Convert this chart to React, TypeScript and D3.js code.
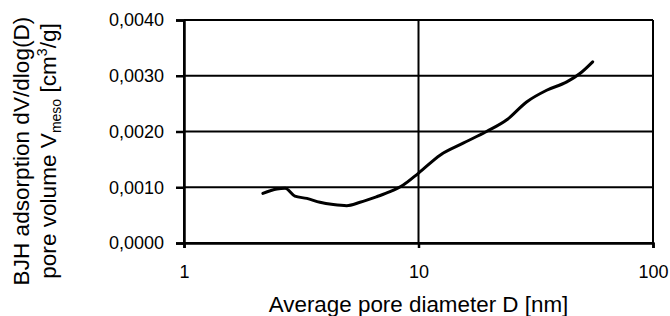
import React, { useEffect, useRef } from 'react';
import * as d3 from 'd3';

// pore diameter D [nm] and BJH dV/dlog(D) [cm3/g]
const diameters = [2.17, 2.49, 2.7, 2.97, 3.34, 3.8, 4.33, 4.94, 5.63, 6.63, 7.56, 8.61, 9.98, 12.4, 15.5, 19.5, 23.8, 28.9, 35.2, 42.9, 48.8, 55.3];
const volumes = [0.00089, 0.00097, 0.00098, 0.00084, 0.0008, 0.00073, 0.00069, 0.00067, 0.00073, 0.00083, 0.00092, 0.00104, 0.00125, 0.00158, 0.00179, 0.002, 0.00221, 0.00253, 0.00274, 0.00289, 0.00304, 0.00325];

const xTicks = [1, 10, 100];
const yTicks = [0, 0.001, 0.002, 0.003, 0.004];

const width = 670;
const height = 316;

const App: React.FC = () => {
  const svgRef = useRef<SVGSVGElement>(null);

  useEffect(() => {
    if (!svgRef.current) return;
    const svg = d3.select(svgRef.current);
    svg.selectAll('*').remove();

    const left = 184, right = 653, top = 20, bottom = 243;
    const font = 'Liberation Sans, Arial, sans-serif';

    const x = d3.scaleLog().domain([1, 100]).range([left, right]);
    const y = d3.scaleLinear().domain([0, 0.004]).range([bottom, top]);

    const comma = d3.formatLocale({ decimal: ',', thousands: '.', grouping: [3], currency: ['', ''] });
    const yFmt = comma.format('.4f');

    // grid
    svg.append('g')
      .selectAll('line')
      .data(yTicks)
      .join('line')
      .attr('x1', left).attr('x2', right)
      .attr('y1', d => y(d)).attr('y2', d => y(d))
      .attr('stroke', '#000').attr('stroke-width', 2);

    svg.append('g')
      .selectAll('line')
      .data(xTicks)
      .join('line')
      .attr('x1', d => x(d)).attr('x2', d => x(d))
      .attr('y1', top).attr('y2', bottom)
      .attr('stroke', '#000').attr('stroke-width', 2);

    const yAxis = svg.append('g')
      .attr('transform', `translate(${left},0)`)
      .call(d3.axisLeft(y).tickValues(yTicks).tickFormat(d => yFmt(d as number)).tickSize(8).tickPadding(12));
    yAxis.select('.domain').attr('stroke-width', 2.5);
    yAxis.selectAll('.tick line').attr('stroke-width', 2.5);
    yAxis.selectAll('text').attr('font-family', font).attr('font-size', 18).attr('fill', '#000');

    const xAxis = svg.append('g')
      .attr('transform', `translate(0,${bottom})`)
      .call(d3.axisBottom(x).tickValues(xTicks).tickFormat(d => d3.format('d')(d as number)).tickSize(5).tickPadding(17));
    xAxis.select('.domain').attr('stroke-width', 2.5);
    xAxis.selectAll('.tick line').attr('stroke-width', 2.5);
    xAxis.selectAll('text').attr('font-family', font).attr('font-size', 18).attr('fill', '#000');

    // curve
    const pts: [number, number][] = diameters.map((d, i) => [d, volumes[i]]);
    const line = d3.line<[number, number]>()
      .x(d => x(d[0]))
      .y(d => y(d[1]))
      .curve(d3.curveMonotoneX);

    svg.append('path')
      .datum(pts)
      .attr('fill', 'none')
      .attr('stroke', '#000')
      .attr('stroke-width', 3)
      .attr('stroke-linecap', 'round')
      .attr('d', line);

    // axis titles
    svg.append('text')
      .attr('x', (left + right) / 2)
      .attr('y', 312)
      .attr('text-anchor', 'middle')
      .attr('font-family', font)
      .attr('font-size', 22.4)
      .text('Average pore diameter D [nm]');

    const ty = svg.append('text')
      .attr('transform', 'translate(29,151) rotate(-90)')
      .attr('text-anchor', 'middle')
      .attr('font-family', font)
      .attr('font-size', 22.6);
    ty.append('tspan').attr('x', 0).attr('y', 0).text('BJH adsorption dV/dlog(D)');

    const ty2 = svg.append('text')
      .attr('transform', 'translate(56,151) rotate(-90)')
      .attr('text-anchor', 'middle')
      .attr('font-family', font)
      .attr('font-size', 22.6);
    ty2.append('tspan').text('pore volume V');
    ty2.append('tspan').attr('font-size', 14).attr('dy', 5).text('meso');
    ty2.append('tspan').attr('dy', -5).text(' [cm');
    ty2.append('tspan').attr('font-size', 14).attr('dy', -9).text('3');
    ty2.append('tspan').attr('dy', 9).text('/g]');
  }, []);

  return (
    <svg
      ref={svgRef}
      width={width}
      height={height}
      style={{ position: 'absolute', left: 0, top: 0, background: '#fff' }}
    />
  );
};

export default App;
